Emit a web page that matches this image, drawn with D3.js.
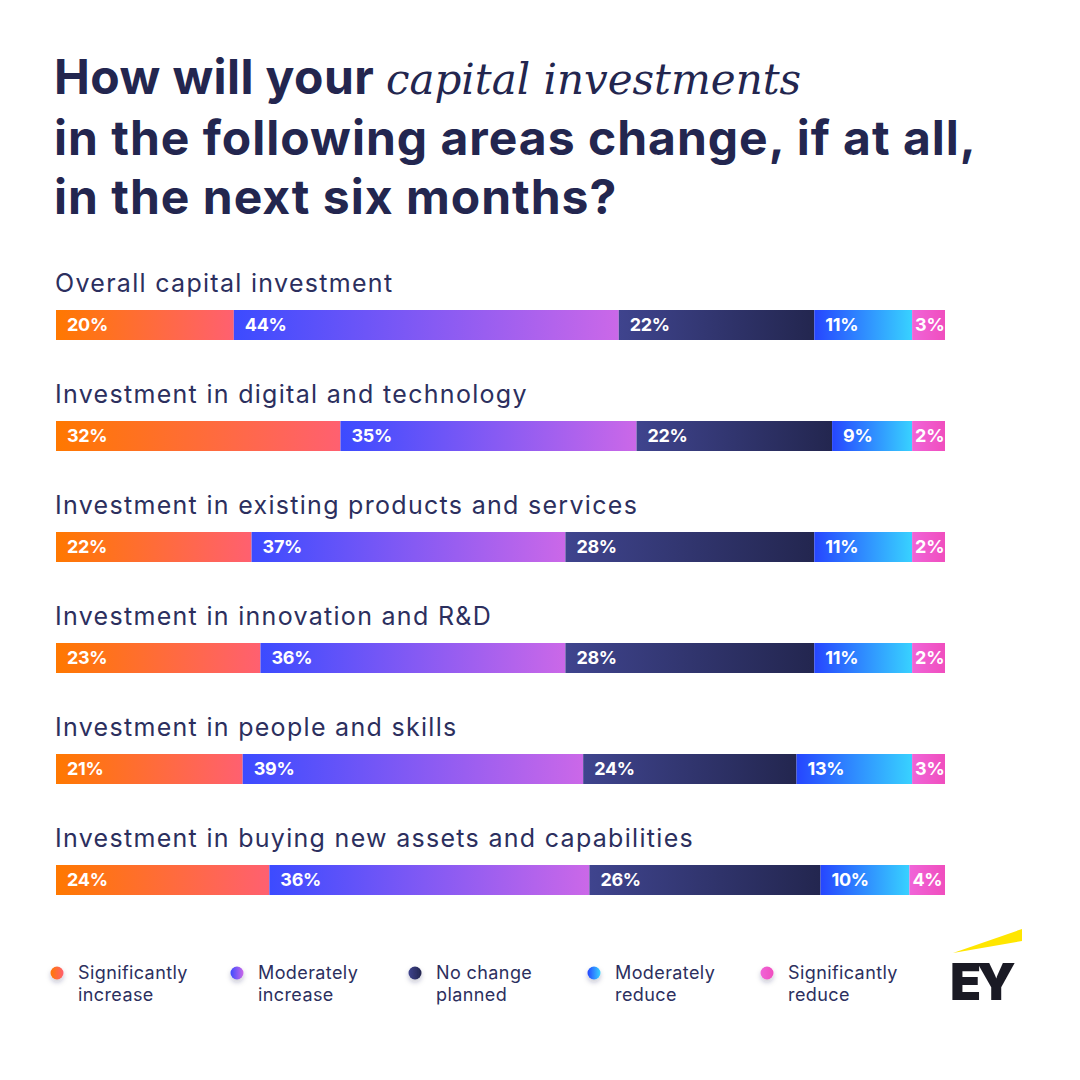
<!DOCTYPE html>
<html><head><meta charset="utf-8">
<script src="https://cdn.jsdelivr.net/npm/d3@7"></script>
<style>
html,body{margin:0;padding:0;background:#fff;}
svg{display:block;}
</style></head>
<body>
<svg id="chart" width="1080" height="1080"></svg>
<script>
const categories = [
  "Overall capital investment",
  "Investment in digital and technology",
  "Investment in existing products and services",
  "Investment in innovation and R&D",
  "Investment in people and skills",
  "Investment in buying new assets and capabilities"
];
const seriesNames = ["Significantly increase","Moderately increase","No change planned","Moderately reduce","Significantly reduce"];
const legendLines = [["Significantly","increase"],["Moderately","increase"],["No change","planned"],["Moderately","reduce"],["Significantly","reduce"]];
const sigIncrease = [20,32,22,23,21,24];
const modIncrease = [44,35,37,36,39,36];
const noChange    = [22,22,28,28,24,26];
const modReduce   = [11,9,11,11,13,10];
const sigReduce   = [3,2,2,2,3,4];
const seriesValues = [sigIncrease, modIncrease, noChange, modReduce, sigReduce];
const gradStops = [
  ["#FF7800","#FF6070"],
  ["#3C4BFF","#CB68E8"],
  ["#3F448E","#23264F"],
  ["#2646FF","#38D2FF"],
  ["#F064D8","#F04EBE"]
];
// small segments get a minimum visual width so their label fits (taken from the row's largest segment)
const minShare = 3.7;

const svg = d3.select("#chart");
const navy = "#23264F";
const defs = svg.append("defs");
gradStops.forEach((s,i)=>{
  const g = defs.append("linearGradient").attr("id","g"+i).attr("x1","0").attr("x2","1").attr("y1","0").attr("y2","0");
  g.append("stop").attr("offset","0%").attr("stop-color",s[0]);
  g.append("stop").attr("offset","100%").attr("stop-color",s[1]);
});
const f = defs.append("filter").attr("id","shadow").attr("x","-100%").attr("y","-100%").attr("width","300%").attr("height","300%");
f.append("feDropShadow").attr("dx",0).attr("dy",3).attr("stdDeviation",2.5).attr("flood-color","#23264F").attr("flood-opacity",0.25);

// Title
const title = svg.append("text").attr("x",54).attr("fill",navy)
  .style("font-family","Inter, 'Noto Sans', sans-serif").style("font-weight",700).style("font-size","48px").style("letter-spacing","1px");
const l1 = title.append("tspan").attr("x",54).attr("y",94);
l1.append("tspan").text("How will your ").style("letter-spacing","0.4px");
l1.append("tspan").text("capital investments").style("font-family","'DejaVu Serif', 'Liberation Serif', serif").style("font-style","italic").style("font-weight",400).style("font-size","42px").style("letter-spacing","0px");
title.append("tspan").attr("x",54).attr("y",155).text("in the following areas change, if at all,");
title.append("tspan").attr("x",54).attr("y",214).text("in the next six months?");

// Scales
const x = d3.scaleLinear().domain([0,100]).range([56,945]);
const y = d3.scaleBand().domain(categories).range([310,976]).paddingInner(0).paddingOuter(0);
const barH = 30;

const rows = svg.append("g").selectAll("g.row").data(categories).join("g").attr("class","row");
rows.append("text")
  .attr("x",55).attr("y",c=>y(c)-18)
  .attr("fill","#2C2F5E")
  .style("font-family","Inter, 'Noto Sans', sans-serif").style("font-size","25px").style("font-weight",400).style("letter-spacing","1.3px")
  .text(c=>c);

categories.forEach((c,ri)=>{
  const vals = seriesValues.map(s=>s[ri]);
  const widths = vals.map(v=>Math.max(v,minShare));
  const extra = d3.sum(widths) - d3.sum(vals);
  const imax = d3.maxIndex(vals);
  widths[imax] -= extra;
  let cum = 0;
  vals.forEach((v,si)=>{
    const w = widths[si];
    const x0 = x(cum), x1 = x(cum+w);
    svg.append("rect").attr("x",x0).attr("y",y(c)).attr("width",x1-x0).attr("height",barH).attr("fill",`url(#g${si})`);
    svg.append("text").attr("x",x0+ (v<5?3:11)).attr("y",y(c)+barH/2).attr("dy","0.36em")
      .attr("fill","#fff").style("font-family","Inter, 'Noto Sans', sans-serif").style("font-weight",700).style("font-size","18px")
      .style("letter-spacing","-0.3px")
      .text(v+"%");
    cum += w;
  });
});

// Legend
const legendX = [57,237,415,594,767];
const lg = svg.append("g").selectAll("g").data(seriesNames).join("g").attr("transform",(d,i)=>`translate(${legendX[i]},973)`);
lg.append("circle").attr("r",6.5).attr("fill",(d,i)=>`url(#g${i})`).attr("filter","url(#shadow)");
lg.each(function(d,i){
  const t = d3.select(this).append("text").attr("fill","#2C2F5E")
    .style("font-family","Inter, 'Noto Sans', sans-serif").style("font-size","18px").style("letter-spacing","0.4px");
  t.append("tspan").attr("x",21).attr("y",6).text(legendLines[i][0]);
  t.append("tspan").attr("x",21).attr("y",28).text(legendLines[i][1]);
});

// EY logo
const logo = svg.append("g");
logo.append("path").attr("d","M953,953 L1022,929 L1022,941 Z").attr("fill","#FFE600");
logo.append("text").attr("x",950).attr("y",1000).attr("fill","#1A1A24")
  .style("font-family","Inter, 'Noto Sans', sans-serif").style("font-weight",900).style("font-size","51px").style("letter-spacing","-5px")
  .text("EY");
</script>
</body></html>
